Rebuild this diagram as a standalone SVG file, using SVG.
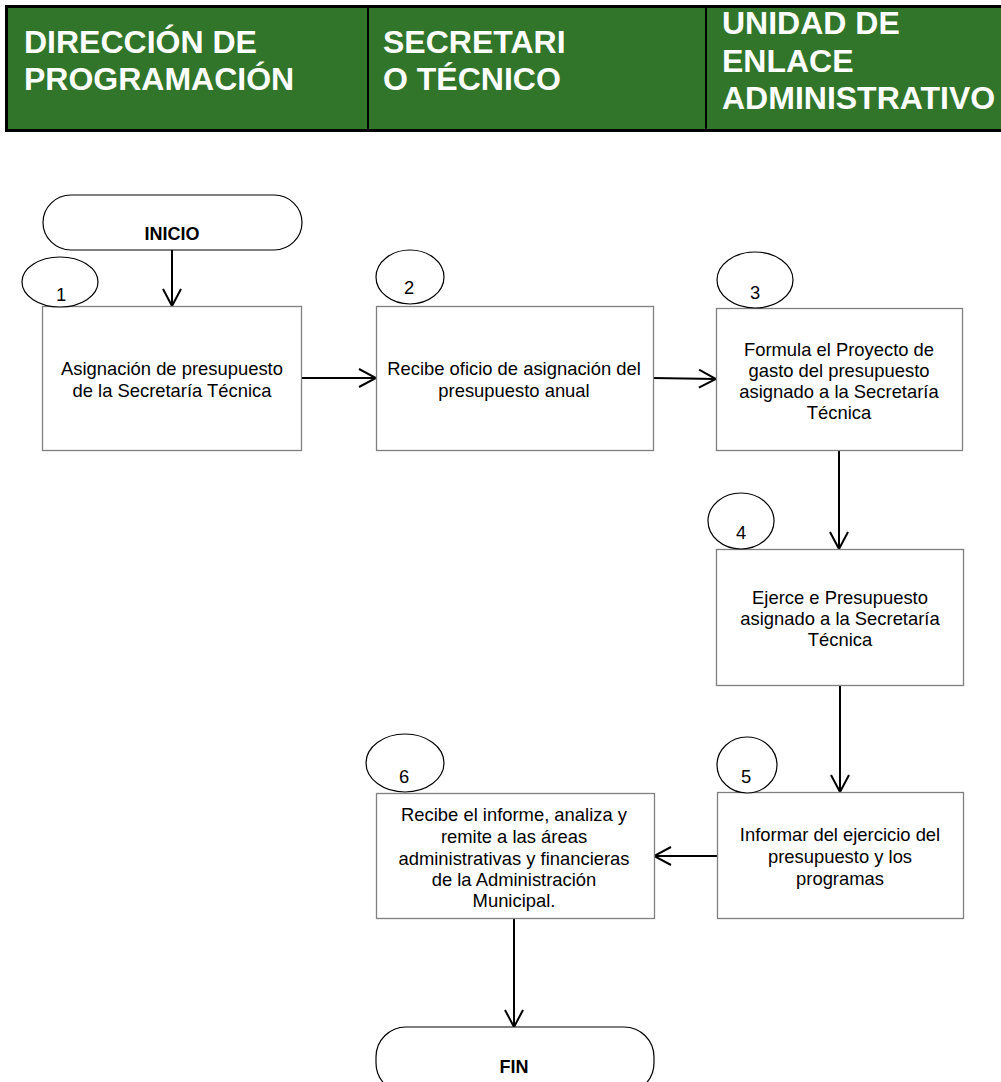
<svg xmlns="http://www.w3.org/2000/svg" width="1001" height="1082" viewBox="0 0 1001 1082">
<defs>
<style>
.hdr{font-family:"Liberation Sans",Arial,sans-serif;font-weight:bold;font-size:32px;fill:#ffffff}
.box{fill:#ffffff;stroke:#808080;stroke-width:1.3}
.term{fill:#ffffff;stroke:#000000;stroke-width:1.2}
.ell{fill:#ffffff;stroke:#000000;stroke-width:1.2}
.t{font-family:"Liberation Sans",Arial,sans-serif;font-size:18.4px;fill:#000000;text-anchor:middle}
.tb{font-family:"Liberation Sans",Arial,sans-serif;font-size:18px;font-weight:bold;fill:#000000;text-anchor:middle}
.con{fill:none;stroke:#000000;stroke-width:2}
</style>
<marker id="ah" viewBox="0 0 20 20" refX="18" refY="10" markerWidth="20" markerHeight="20" markerUnits="userSpaceOnUse" orient="auto">
<path d="M1,1 L18,10 L1,19" fill="none" stroke="#000000" stroke-width="2"/>
</marker>
</defs>
<rect width="1001" height="1082" fill="#ffffff"/>
<g id="header">
<rect x="6.5" y="6.5" width="1000" height="124" fill="#31752a" stroke="#000000" stroke-width="3"/>
<line x1="368" y1="6" x2="368" y2="131" stroke="#000000" stroke-width="2"/>
<line x1="706" y1="6" x2="706" y2="131" stroke="#000000" stroke-width="2"/>
<text class="hdr" x="24" y="53">DIRECCIÓN DE</text>
<text class="hdr" x="24" y="90">PROGRAMACIÓN</text>
<text class="hdr" x="383" y="53">SECRETARI</text>
<text class="hdr" x="383" y="90">O TÉCNICO</text>
<text class="hdr" x="722" y="34">UNIDAD DE</text>
<text class="hdr" x="722" y="72">ENLACE</text>
<text class="hdr" x="722" y="109">ADMINISTRATIVO</text>
</g>
<g id="connectors">
<line class="con" x1="172" y1="250" x2="172" y2="306" marker-end="url(#ah)"/>
<line class="con" x1="302" y1="378" x2="376" y2="378" marker-end="url(#ah)"/>
<line class="con" x1="653" y1="378" x2="716" y2="379" marker-end="url(#ah)"/>
<line class="con" x1="839" y1="450" x2="839" y2="549" marker-end="url(#ah)"/>
<line class="con" x1="840" y1="685" x2="840" y2="792" marker-end="url(#ah)"/>
<line class="con" x1="717" y1="856" x2="654" y2="856" marker-end="url(#ah)"/>
<line class="con" x1="514" y1="918" x2="514" y2="1027" marker-end="url(#ah)"/>
</g>
<g id="inicio">
<rect class="term" x="43" y="195" width="259" height="55" rx="28" ry="27.5"/>
<text class="tb" x="172" y="240">INICIO</text>
</g>
<g id="step1">
<rect class="box" x="42.5" y="306.5" width="259" height="144"/>
<ellipse class="ell" cx="60" cy="282" rx="38" ry="25"/>
<text class="t" x="61" y="301">1</text>
<text class="t" x="172" y="375">Asignación de presupuesto</text>
<text class="t" x="172" y="397">de la Secretaría Técnica</text>
</g>
<g id="step2">
<rect class="box" x="376.5" y="306.5" width="277" height="144"/>
<ellipse class="ell" cx="410" cy="277" rx="34" ry="27"/>
<text class="t" x="409" y="294">2</text>
<text class="t" x="514" y="375">Recibe oficio de asignación del</text>
<text class="t" x="514" y="397">presupuesto anual</text>
</g>
<g id="step3">
<rect class="box" x="716.5" y="308.5" width="246" height="142"/>
<ellipse class="ell" cx="755" cy="280" rx="38" ry="28"/>
<text class="t" x="755" y="299">3</text>
<text class="t" x="839" y="356">Formula el Proyecto de</text>
<text class="t" x="839" y="377">gasto del presupuesto</text>
<text class="t" x="839" y="398">asignado a la Secretaría</text>
<text class="t" x="839" y="419">Técnica</text>
</g>
<g id="step4">
<rect class="box" x="716.5" y="549.5" width="247" height="136"/>
<ellipse class="ell" cx="741" cy="521" rx="33" ry="28"/>
<text class="t" x="741" y="539">4</text>
<text class="t" x="840" y="604">Ejerce e Presupuesto</text>
<text class="t" x="840" y="625">asignado a la Secretaría</text>
<text class="t" x="840" y="646">Técnica</text>
</g>
<g id="step5">
<rect class="box" x="717.5" y="792.5" width="246" height="126"/>
<ellipse class="ell" cx="747" cy="765" rx="30" ry="28"/>
<text class="t" x="746" y="783">5</text>
<text class="t" x="840" y="841">Informar del ejercicio del</text>
<text class="t" x="840" y="863">presupuesto y los</text>
<text class="t" x="840" y="885">programas</text>
</g>
<g id="step6">
<rect class="box" x="376.5" y="793.5" width="278" height="125"/>
<ellipse class="ell" cx="405" cy="763" rx="39" ry="29"/>
<text class="t" x="404" y="783">6</text>
<text class="t" x="514" y="821">Recibe el informe, analiza y</text>
<text class="t" x="514" y="843">remite a las áreas</text>
<text class="t" x="514" y="865">administrativas y financieras</text>
<text class="t" x="514" y="886">de la Administración</text>
<text class="t" x="514" y="907">Municipal.</text>
</g>
<g id="fin">
<rect class="term" x="376" y="1027" width="278" height="66" rx="30" ry="30"/>
<text class="tb" x="514" y="1073">FIN</text>
</g>
</svg>
